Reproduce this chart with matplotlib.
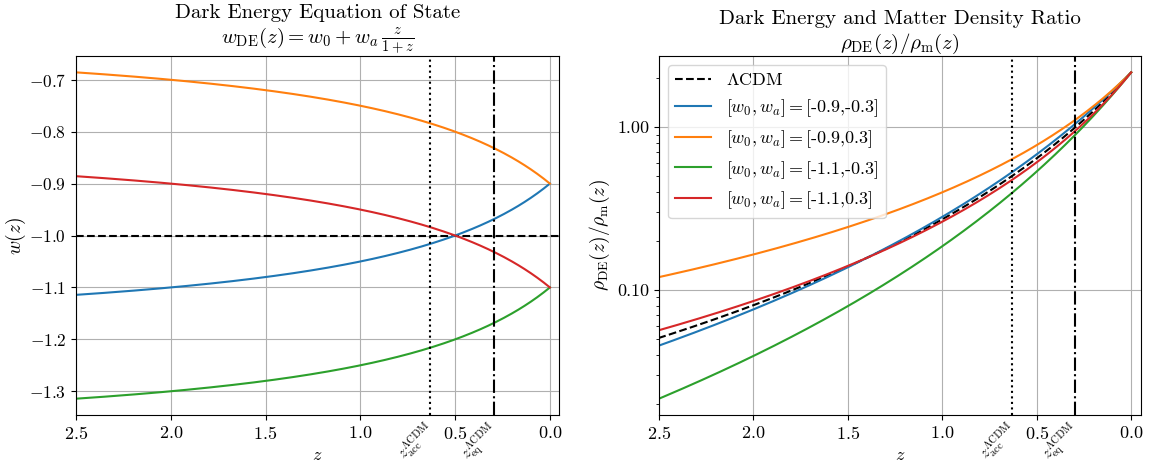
import numpy as np
import matplotlib
matplotlib.use('Agg')
import matplotlib.pyplot as plt
from matplotlib.ticker import FormatStrFormatter
import matplotlib.transforms as mtransforms

plt.rcParams['font.family'] = 'serif'
plt.rcParams['font.serif'] = ['cmr10']
plt.rcParams['mathtext.fontset'] = 'cm'
plt.rcParams['axes.formatter.use_mathtext'] = True
plt.rcParams['font.size'] = 13

# model parameters (from legend)
w0_list = [-0.9, -0.9, -1.1, -1.1]
wa_list = [-0.3, 0.3, -0.3, 0.3]
colors = ['tab:blue', 'tab:orange', 'tab:green', 'tab:red']
omega_m = 0.315
omega_de = 1.0 - omega_m

# LCDM transition redshifts
z_acc = (2 * omega_de / omega_m) ** (1 / 3) - 1
z_eq = (omega_de / omega_m) ** (1 / 3) - 1

z = np.linspace(0, 2.5, 300)

def w_de(z, w0, wa):
    return w0 + wa * z / (1 + z)

def ratio(z, w0, wa):
    return omega_de / omega_m * (1 + z) ** (3 * (w0 + wa)) * np.exp(-3 * wa * z / (1 + z))

fig = plt.figure(figsize=(11.51, 4.65), dpi=100)
ax1 = fig.add_axes([0.066, 0.1075, 0.42, 0.772])
ax2 = fig.add_axes([0.5725, 0.1075, 0.4185, 0.772])

# left: equation of state
ax1.axhline(-1.0, color='k', ls='--', lw=1.5)
for w0, wa, c in zip(w0_list, wa_list, colors):
    ax1.plot(z, w_de(z, w0, wa), color=c, lw=1.5)
ax1.set_title('Dark Energy Equation of State\n' + r'$w_{\rm DE}(z) = w_0 + w_a\,\frac{z}{1+z}$', fontsize=15, pad=4)
ax1.set_ylabel(r'$w(z)$', fontsize=14, labelpad=1)
ax1.set_yticks([-0.7, -0.8, -0.9, -1.0, -1.1, -1.2, -1.3])
ax1.yaxis.set_major_formatter(FormatStrFormatter('$\\mathdefault{%.1f}$'))
ax1.tick_params(axis='y', labelsize=12.5)

# right: density ratio
ax2.plot(z, ratio(z, -1.0, 0.0), color='k', ls='--', lw=1.5, label=r'$\Lambda$CDM')
for w0, wa, c in zip(w0_list, wa_list, colors):
    ax2.plot(z, ratio(z, w0, wa), color=c, lw=1.5,
             label=r'$[w_0,w_a]=$' + '[%s,%s]' % (w0, wa))
ax2.set_yscale('log')
ax2.yaxis.set_major_formatter(FormatStrFormatter('%.2f'))
ax2.set_title('Dark Energy and Matter Density Ratio\n' + r'$\rho_{\rm DE}(z)/\rho_{\rm m}(z)$', fontsize=15, pad=4)
ax2.set_ylabel(r'$\rho_{\rm DE}(z)/\rho_{\rm m}(z)$', fontsize=14)
ax2.legend(loc='upper left', fontsize=13)

for ax in (ax1, ax2):
    ax.axvline(z_acc, color='k', ls=':', lw=1.5)
    ax.axvline(z_eq, color='k', ls='-.', lw=1.5)
    ax.set_xlim(2.5, -0.05)
    ax.set_xticks([2.5, 2.0, 1.5, 1.0, 0.5, 0.0])
    ax.set_xlabel(r'$z$', labelpad=4)
    ax.grid(True)
    trans = mtransforms.blended_transform_factory(ax.transData, ax.transAxes)
    ax.text(z_acc - 0.05, -0.01, r'$z_{\rm acc}^{\Lambda\rm CDM}$', transform=trans,
            rotation=45, ha='right', va='top', fontsize=11)
    ax.text(z_eq - 0.05, -0.01, r'$z_{\rm eq}^{\Lambda\rm CDM}$', transform=trans,
            rotation=45, ha='right', va='top', fontsize=11)

fig.savefig('out.png', dpi=100)
